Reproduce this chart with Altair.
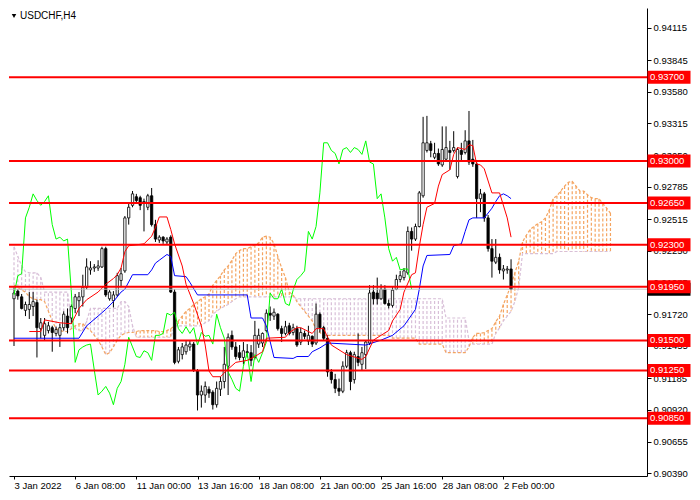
import json

import altair as alt
import pandas as pd

# USDCHF H4, one entry per bar (bar 0 is the leftmost visible candle)
opens = [
    0.91849, 0.91913, 0.91865, 0.91752, 0.91760, 0.91784, 0.91817, 0.91599, 0.91543, 0.91583,
    0.91607, 0.91559, 0.91543, 0.91607, 0.91704, 0.91688, 0.91768, 0.91833, 0.91865, 0.91945,
    0.92090, 0.92106, 0.92106, 0.92115, 0.92268, 0.91849, 0.91833, 0.91881, 0.92002, 0.92082,
    0.92525, 0.92630, 0.92702, 0.92694, 0.92646, 0.92614, 0.92710, 0.92469, 0.92340, 0.92364,
    0.92324, 0.92364, 0.91905, 0.91326, 0.91382, 0.91406, 0.91446, 0.91470, 0.91245, 0.91044,
    0.91044, 0.91092, 0.91068, 0.90963, 0.91092, 0.91157, 0.91285, 0.91543, 0.91446, 0.91398,
    0.91358, 0.91406, 0.91398, 0.91358, 0.91470, 0.91479, 0.91583, 0.91728, 0.91704, 0.91720,
    0.91599, 0.91559, 0.91623, 0.91567, 0.91599, 0.91487, 0.91559, 0.91495, 0.91535, 0.91479,
    0.91720, 0.91607, 0.91519, 0.91237, 0.91173, 0.91100, 0.91076, 0.91285, 0.91398, 0.91173,
    0.91366, 0.91301, 0.91382, 0.91479, 0.91905, 0.91897, 0.91849, 0.91929, 0.91809, 0.91793,
    0.91929, 0.92010, 0.92026, 0.92066, 0.92412, 0.92348, 0.92453, 0.92710, 0.93089, 0.93145,
    0.93032, 0.93064, 0.92968, 0.93016, 0.93089, 0.93089, 0.92871, 0.93089, 0.93072, 0.93169,
    0.93016, 0.92976, 0.92686, 0.92726, 0.92525, 0.92268, 0.92155, 0.92195, 0.92082, 0.92090,
    0.92098,
]
highs = [
    0.91945, 0.91929, 0.91889, 0.91825, 0.91905, 0.91905, 0.91841, 0.91688, 0.91688, 0.91656,
    0.91623, 0.91615, 0.91640, 0.91744, 0.91768, 0.91801, 0.91889, 0.91905, 0.92050, 0.92187,
    0.92163, 0.92139, 0.92171, 0.92284, 0.92284, 0.91921, 0.91913, 0.92066, 0.92106, 0.92541,
    0.92646, 0.92750, 0.92726, 0.92710, 0.92686, 0.92726, 0.92775, 0.92509, 0.92380, 0.92372,
    0.92364, 0.92380, 0.91929, 0.91446, 0.91479, 0.91503, 0.91503, 0.91487, 0.91261, 0.91124,
    0.91157, 0.91116, 0.91084, 0.91157, 0.91197, 0.91446, 0.91559, 0.91583, 0.91487, 0.91462,
    0.91487, 0.91470, 0.91462, 0.91664, 0.91599, 0.91567, 0.91760, 0.91784, 0.91768, 0.91728,
    0.91623, 0.91664, 0.91648, 0.91640, 0.91623, 0.91607, 0.91583, 0.91623, 0.91543, 0.91809,
    0.91736, 0.91623, 0.91543, 0.91261, 0.91221, 0.91181, 0.91326, 0.91422, 0.91414, 0.91406,
    0.91559, 0.91446, 0.91503, 0.91962, 0.91962, 0.92026, 0.91970, 0.91962, 0.91841, 0.91945,
    0.92050, 0.92082, 0.92106, 0.92453, 0.92445, 0.92477, 0.92750, 0.93370, 0.93378, 0.93169,
    0.93153, 0.93105, 0.93290, 0.93290, 0.93169, 0.93250, 0.93113, 0.93153, 0.93258, 0.93419,
    0.93177, 0.93008, 0.92767, 0.92742, 0.92549, 0.92348, 0.92348, 0.92227, 0.92131, 0.92123,
    0.92179,
]
lows = [
    0.91454, 0.91841, 0.91760, 0.91704, 0.91680, 0.91704, 0.91358, 0.91519, 0.91503, 0.91559,
    0.91406, 0.91535, 0.91446, 0.91583, 0.91559, 0.91640, 0.91728, 0.91704, 0.91784, 0.91929,
    0.92050, 0.92074, 0.92082, 0.92106, 0.91865, 0.91833, 0.91776, 0.91865, 0.91945, 0.92066,
    0.92469, 0.92614, 0.92654, 0.92590, 0.92412, 0.92590, 0.92453, 0.92324, 0.92316, 0.92308,
    0.92300, 0.91897, 0.91301, 0.91309, 0.91342, 0.91382, 0.91414, 0.91237, 0.90915, 0.90939,
    0.90979, 0.91020, 0.90923, 0.90939, 0.91036, 0.91100, 0.91044, 0.91422, 0.91342, 0.91334,
    0.91301, 0.91358, 0.91285, 0.91342, 0.91438, 0.91446, 0.91567, 0.91664, 0.91672, 0.91583,
    0.91487, 0.91543, 0.91543, 0.91543, 0.91446, 0.91462, 0.91511, 0.91462, 0.91446, 0.91462,
    0.91567, 0.91503, 0.91197, 0.91140, 0.91060, 0.91036, 0.91060, 0.91269, 0.91084, 0.91140,
    0.91285, 0.91245, 0.91261, 0.91462, 0.91801, 0.91801, 0.91841, 0.91801, 0.91768, 0.91776,
    0.91921, 0.91986, 0.92002, 0.92050, 0.92251, 0.92332, 0.92445, 0.92694, 0.93072, 0.93032,
    0.93016, 0.92960, 0.92952, 0.93008, 0.92927, 0.93072, 0.92855, 0.93008, 0.93056, 0.92968,
    0.92952, 0.92525, 0.92573, 0.92493, 0.92243, 0.92026, 0.92139, 0.92058, 0.92010, 0.92058,
    0.91921,
]
closes = [
    0.91897, 0.91873, 0.91768, 0.91801, 0.91801, 0.91825, 0.91607, 0.91648, 0.91640, 0.91623,
    0.91567, 0.91591, 0.91607, 0.91720, 0.91607, 0.91784, 0.91865, 0.91865, 0.91945, 0.92115,
    0.92106, 0.92115, 0.92123, 0.92268, 0.91881, 0.91905, 0.91881, 0.92042, 0.92058, 0.92525,
    0.92614, 0.92726, 0.92670, 0.92630, 0.92662, 0.92710, 0.92469, 0.92348, 0.92364, 0.92332,
    0.92348, 0.91905, 0.91317, 0.91422, 0.91446, 0.91462, 0.91470, 0.91253, 0.91044, 0.91076,
    0.91116, 0.91060, 0.90963, 0.91100, 0.91157, 0.91301, 0.91527, 0.91446, 0.91366, 0.91358,
    0.91414, 0.91398, 0.91334, 0.91543, 0.91543, 0.91559, 0.91728, 0.91712, 0.91736, 0.91599,
    0.91559, 0.91615, 0.91559, 0.91607, 0.91462, 0.91567, 0.91535, 0.91543, 0.91470, 0.91720,
    0.91607, 0.91519, 0.91237, 0.91173, 0.91100, 0.91076, 0.91285, 0.91398, 0.91157, 0.91382,
    0.91317, 0.91398, 0.91487, 0.91897, 0.91849, 0.91849, 0.91929, 0.91809, 0.91793, 0.91921,
    0.92010, 0.92042, 0.92082, 0.92412, 0.92348, 0.92453, 0.92734, 0.93153, 0.93153, 0.93089,
    0.93064, 0.92976, 0.93097, 0.93113, 0.93072, 0.93113, 0.93097, 0.93056, 0.93169, 0.92992,
    0.92976, 0.92686, 0.92726, 0.92525, 0.92268, 0.92163, 0.92195, 0.92090, 0.92098, 0.92098,
    0.91929,
]

# Ichimoku lines at their turning points
tenkan_bar = [4, 7, 8, 12, 15, 16, 17, 19, 22, 24, 26, 27, 28, 29, 30, 34, 36, 37, 38, 40,
              41, 42, 44, 45, 47, 49, 50, 51, 52, 54, 56, 58, 61, 63, 65, 66, 71, 72, 74, 75,
              78, 79, 81, 82, 83, 87, 91, 92, 94, 96, 98, 99, 101, 102, 104, 105, 106, 107, 108, 110,
              111, 112, 114, 115, 116, 118, 119, 120, 121, 122, 123, 125, 127, 129, 130]
tenkan_val = [0.91575, 0.91575, 0.91672, 0.91648, 0.91640, 0.91704, 0.91768, 0.91841, 0.91905, 0.91970,
              0.92018, 0.92050, 0.92106, 0.92243, 0.92292, 0.92308, 0.92372, 0.92445, 0.92533, 0.92533,
              0.92428, 0.92308, 0.92123, 0.91970, 0.91809, 0.91623, 0.91462, 0.91245, 0.91197, 0.91197,
              0.91261, 0.91317, 0.91334, 0.91366, 0.91406, 0.91519, 0.91527, 0.91567, 0.91607, 0.91607,
              0.91559, 0.91599, 0.91599, 0.91527, 0.91462, 0.91382, 0.91342, 0.91366, 0.91503, 0.91543,
              0.91583, 0.91664, 0.91760, 0.91905, 0.92050, 0.92066, 0.92284, 0.92469, 0.92614, 0.92646,
              0.92791, 0.92887, 0.92927, 0.93056, 0.93113, 0.93097, 0.93137, 0.93129, 0.92976, 0.92968,
              0.92935, 0.92734, 0.92734, 0.92525, 0.92364]
kijun_bar = [0, 17, 19, 22, 24, 26, 28, 29, 31, 35, 36, 37, 38, 40, 41, 42, 45, 46, 48, 61,
             62, 65, 66, 68, 73, 74, 77, 78, 80, 82, 92, 96, 99, 102, 105, 106, 107, 108, 114, 115,
             117, 118, 119, 120, 123, 125, 126, 127, 128, 129, 130]
kijun_val = [0.91519, 0.91519, 0.91623, 0.91704, 0.91760, 0.91825, 0.91905, 0.91929, 0.92050, 0.92050,
             0.92090, 0.92147, 0.92171, 0.92219, 0.92203, 0.92042, 0.92034, 0.91986, 0.91881, 0.91881,
             0.91688, 0.91688, 0.91623, 0.91358, 0.91350, 0.91366, 0.91366, 0.91406, 0.91438, 0.91479,
             0.91462, 0.91503, 0.91543, 0.91623, 0.91760, 0.91929, 0.92123, 0.92211, 0.92219, 0.92292,
             0.92308, 0.92412, 0.92509, 0.92525, 0.92525, 0.92606, 0.92662, 0.92710, 0.92726, 0.92710,
             0.92686]

# Senkou spans as drawn (already shifted 26 bars ahead), one value per bar
span_a = [
    0.91962, 0.91945, 0.91921, 0.91905, 0.91865, 0.91849, 0.91841, 0.91841, 0.91825, 0.91744,
    0.91664, 0.91599, 0.91583, 0.91575, 0.91575, 0.91599, 0.91623, 0.91640, 0.91640, 0.91607,
    0.91583, 0.91543, 0.91503, 0.91446, 0.91382, 0.91398, 0.91446, 0.91503, 0.91543, 0.91559,
    0.91567, 0.91567, 0.91575, 0.91583, 0.91583, 0.91583, 0.91583, 0.91583, 0.91575, 0.91575,
    0.91583, 0.91599, 0.91623, 0.91664, 0.91704, 0.91744, 0.91768, 0.91801, 0.91825, 0.91849,
    0.91865, 0.91889, 0.91962, 0.92002, 0.92042, 0.92090, 0.92123, 0.92171, 0.92227, 0.92252,
    0.92268, 0.92268, 0.92284, 0.92300, 0.92316, 0.92364, 0.92372, 0.92364, 0.92308, 0.92203,
    0.92106, 0.92026, 0.91905, 0.91881, 0.91825, 0.91784, 0.91744, 0.91704, 0.91664, 0.91591,
    0.91567, 0.91543, 0.91543, 0.91543, 0.91543, 0.91543, 0.91543, 0.91543, 0.91543, 0.91543,
    0.91543, 0.91543, 0.91543, 0.91543, 0.91543, 0.91543, 0.91543, 0.91543, 0.91543, 0.91519,
    0.91519, 0.91519, 0.91519, 0.91519, 0.91519, 0.91519, 0.91470, 0.91470, 0.91470, 0.91470,
    0.91470, 0.91470, 0.91470, 0.91398, 0.91398, 0.91398, 0.91398, 0.91398, 0.91398, 0.91446,
    0.91527, 0.91559, 0.91559, 0.91567, 0.91583, 0.91599, 0.91656, 0.91704, 0.91801, 0.91881,
    0.91962, 0.92066, 0.92163, 0.92324, 0.92380, 0.92428, 0.92453, 0.92477, 0.92493, 0.92525,
    0.92590, 0.92686, 0.92710, 0.92750, 0.92791, 0.92823, 0.92831, 0.92791, 0.92750, 0.92750,
    0.92718, 0.92694, 0.92686, 0.92686, 0.92646, 0.92606, 0.92565,
]
span_b = [
    0.92284, 0.92203, 0.92123, 0.92074, 0.92066, 0.92066, 0.92066, 0.92026, 0.91905, 0.91905,
    0.91905, 0.91905, 0.91905, 0.91905, 0.91905, 0.91664, 0.91599, 0.91583, 0.91583, 0.91664,
    0.91768, 0.91768, 0.91768, 0.91768, 0.91768, 0.91768, 0.91768, 0.91768, 0.91825, 0.91825,
    0.91784, 0.91623, 0.91527, 0.91527, 0.91527, 0.91527, 0.91527, 0.91527, 0.91527, 0.91527,
    0.91527, 0.91527, 0.91623, 0.91623, 0.91623, 0.91623, 0.91623, 0.91623, 0.91623, 0.91623,
    0.91648, 0.91664, 0.91720, 0.91744, 0.91768, 0.91784, 0.91801, 0.91825, 0.91849, 0.91865,
    0.91865, 0.91865, 0.91865, 0.91865, 0.91865, 0.91865, 0.91865, 0.91865, 0.91865, 0.91865,
    0.91865, 0.91865, 0.91865, 0.91865, 0.91849, 0.91849, 0.91849, 0.91849, 0.91849, 0.91849,
    0.91849, 0.91849, 0.91849, 0.91849, 0.91849, 0.91849, 0.91849, 0.91849, 0.91849, 0.91849,
    0.91849, 0.91849, 0.91849, 0.91849, 0.91849, 0.91849, 0.91849, 0.91849, 0.91849, 0.91849,
    0.91849, 0.91849, 0.91849, 0.91849, 0.91849, 0.91849, 0.91849, 0.91849, 0.91849, 0.91849,
    0.91849, 0.91849, 0.91849, 0.91688, 0.91688, 0.91688, 0.91688, 0.91688, 0.91688, 0.91503,
    0.91470, 0.91470, 0.91470, 0.91470, 0.91470, 0.91470, 0.91559, 0.91607, 0.91664, 0.91704,
    0.91744, 0.91825, 0.91945, 0.92227, 0.92227, 0.92227, 0.92227, 0.92227, 0.92227, 0.92227,
    0.92227, 0.92227, 0.92244, 0.92244, 0.92244, 0.92244, 0.92244, 0.92244, 0.92244, 0.92244,
    0.92244, 0.92244, 0.92244, 0.92244, 0.92244, 0.92244, 0.92244,
]

levels = [0.93700, 0.93000, 0.92650, 0.92300, 0.91950, 0.91500, 0.91250, 0.90850]
price_ticks = [0.94115, 0.93845, 0.93580, 0.93315, 0.93050, 0.92785, 0.92515, 0.92250,
               0.91985, 0.91720, 0.91455, 0.91185, 0.90920, 0.90655, 0.90390]
date_ticks = [0, 16, 32, 48, 64, 80, 96, 112, 128]
date_labels = ["3 Jan 2022", "6 Jan 08:00", "11 Jan 00:00", "13 Jan 16:00", "18 Jan 08:00",
               "21 Jan 00:00", "25 Jan 16:00", "28 Jan 08:00", "2 Feb 00:00"]
symbol = "USDCHF,H4"

FONT = "Liberation Sans"
W, H = 638, 468
SHIFT = 26
X_MAX = 164.25
Y_MIN, Y_MAX = 0.90367, 0.94280

x_scale = alt.Scale(domain=[0, X_MAX], nice=False, zero=False)
y_scale = alt.Scale(domain=[Y_MIN, Y_MAX], nice=False, zero=False)

label_expr = json.dumps(date_labels) + "[indexof(" + json.dumps(date_ticks) + ", datum.value)]"
x_axis = alt.Axis(
    values=date_ticks, labelExpr=label_expr, title=None, grid=False,
    labelAlign="left", labelFlush=False, labelOverlap=False, labelPadding=1,
    tickSize=3, tickColor="black", domainColor="black", labelColor="black",
    labelFont=FONT, labelFontSize=9.5)
y_axis = alt.Axis(
    orient="right", values=price_ticks, format=".5f", title=None, grid=False,
    labelFlush=False, labelOverlap=False, labelPadding=2, tickSize=4,
    tickColor="black", domainColor="black", labelColor="black",
    labelFont=FONT, labelFontSize=9.5)


def bx(field="bar:Q"):
    return alt.X(field, scale=x_scale, axis=x_axis)


def by(field):
    return alt.Y(field, scale=y_scale, axis=y_axis)


bars = pd.DataFrame({"bar": range(len(closes)), "open": opens, "high": highs,
                     "low": lows, "close": closes})
n_cloud = min(len(span_a), len(span_b))
cloud = pd.DataFrame({"bar": range(n_cloud), "a": span_a[:n_cloud], "b": span_b[:n_cloud]})
cloud["side"] = ["up" if a >= b else "down" for a, b in zip(cloud["a"], cloud["b"])]
chikou = pd.DataFrame({"bar": range(len(closes) - SHIFT), "v": closes[SHIFT:]})
tenkan = pd.DataFrame({"bar": tenkan_bar, "v": tenkan_val})
kijun = pd.DataFrame({"bar": kijun_bar, "v": kijun_val})
lv = pd.DataFrame({"level": levels})
bid = pd.DataFrame({"level": [closes[-1]]})

cloud_rules = alt.Chart(cloud).mark_rule(strokeDash=[3, 2], strokeWidth=1.2).encode(
    x=bx(), y=by("a:Q"), y2="b:Q",
    color=alt.Color("side:N", scale=alt.Scale(domain=["up", "down"], range=["#F4A460", "#D8BFD8"]),
                    legend=None),
)
span_a_line = alt.Chart(cloud).mark_line(color="#F4A460", strokeDash=[3, 2], strokeWidth=1.2).encode(
    x=bx(), y=by("a:Q"))
span_b_line = alt.Chart(cloud).mark_line(color="#D8BFD8", strokeDash=[3, 2], strokeWidth=1.2).encode(
    x=bx(), y=by("b:Q"))

wicks = alt.Chart(bars).mark_rule(color="black", strokeWidth=1).encode(
    x=bx(), y=by("low:Q"), y2="high:Q")
bodies = alt.Chart(bars).mark_bar(width=2.3, stroke="black", strokeWidth=0.8).encode(
    x=bx(), y=by("open:Q"), y2="close:Q",
    fill=alt.condition("datum.close >= datum.open", alt.value("white"), alt.value("black")),
)

chikou_line = alt.Chart(chikou).mark_line(color="#00FF00", strokeWidth=1).encode(x=bx(), y=by("v:Q"))
kijun_line = alt.Chart(kijun).mark_line(color="#0000FF", strokeWidth=1).encode(x=bx(), y=by("v:Q"))
tenkan_line = alt.Chart(tenkan).mark_line(color="#FF0000", strokeWidth=1).encode(x=bx(), y=by("v:Q"))

level_rules = alt.Chart(lv).mark_rule(color="#FF0000", strokeWidth=2).encode(y=by("level:Q"))
bid_rule = alt.Chart(bid).mark_rule(color="#C0C0C0", strokeWidth=1).encode(y=by("level:Q"))

bid_box = alt.Chart(bid).mark_tick(orient="horizontal", color="black", size=43, thickness=13,
                                   opacity=1).encode(x=alt.value(W + 22), y=by("level:Q"))
level_boxes = alt.Chart(lv).mark_tick(orient="horizontal", color="#FF0000", size=43, thickness=13,
                                      opacity=1).encode(x=alt.value(W + 22), y=by("level:Q"))
level_text = alt.Chart(lv).mark_text(align="left", baseline="middle", color="white", font=FONT,
                                     fontSize=9.5).encode(
    x=alt.value(W + 3), y=by("level:Q"), text=alt.Text("level:Q", format=".5f"))

title_df = pd.DataFrame({"t": [symbol]})
tri = alt.Chart(title_df).mark_point(shape="triangle-down", filled=True, color="black", size=20,
                                     opacity=1).encode(x=alt.value(5), y=alt.value(8))
ttl = alt.Chart(title_df).mark_text(align="left", baseline="middle", font=FONT, fontSize=10,
                                    color="black").encode(x=alt.value(11), y=alt.value(8), text="t:N")

chart = alt.layer(
    cloud_rules, span_a_line, span_b_line, wicks, bodies,
    chikou_line, kijun_line, tenkan_line, level_rules, bid_rule,
    bid_box, level_boxes, level_text, tri, ttl,
).properties(width=W, height=H, padding=0).configure_view(stroke=None)

chart.save("out.html", embed_options={"renderer": "svg", "actions": False})
